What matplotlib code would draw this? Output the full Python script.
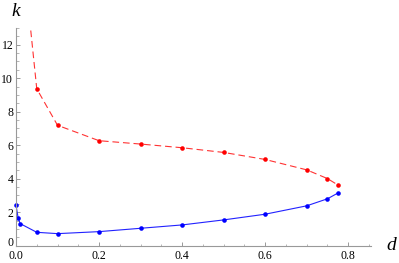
import numpy as np
import matplotlib
matplotlib.use('Agg')
import matplotlib.pyplot as plt
import matplotlib.transforms as mtransforms
from matplotlib.ticker import MultipleLocator, FormatStrFormatter

# values
d_lower = [0.0, 0.005, 0.01, 0.05, 0.1, 0.2, 0.3, 0.4, 0.5, 0.6, 0.7, 0.75, 0.775]
k_lower = [2.42, 1.68, 1.32, 0.80, 0.72, 0.84, 1.04, 1.24, 1.54, 1.88, 2.38, 2.80, 3.14]

d_upper = [0.01, 0.05, 0.1, 0.2, 0.3, 0.4, 0.5, 0.6, 0.7, 0.75, 0.775]
k_upper = [19.0, 9.37, 7.19, 6.27, 6.07, 5.85, 5.57, 5.15, 4.53, 4.01, 3.63]

x_ticks = [0.0, 0.2, 0.4, 0.6, 0.8]
y_ticks = [0, 2, 4, 6, 8, 10, 12]

plt.rcParams['font.family'] = ['Liberation Serif', 'DejaVu Serif']

fig = plt.figure(figsize=(3.99, 2.63), dpi=100)
ax = fig.add_axes([16 / 399, 17.3 / 263, 355 / 399, 217.7 / 263])

x_max, y_max = 0.855, 13.0
ax.set_xlim(0, x_max)
ax.set_ylim(0, y_max)

# lines (clipped), then markers (unclipped so the dot on the axis shows whole)
ax.plot(d_upper, k_upper, color='#ff3333', lw=0.8, dashes=(6, 3.5))
ax.plot(d_lower, k_lower, color='#2222ff', lw=0.8)

du = np.array(d_upper)
ku = np.array(k_upper)
keep = ku <= y_max
ax.plot(du[keep], ku[keep], 'o', color='#ff0000', ms=3.3, mew=0, clip_on=False)
ax.plot(d_lower, k_lower, 'o', color='#0000ff', ms=3.3, mew=0, clip_on=False)

for s in ['top', 'right']:
    ax.spines[s].set_visible(False)
for s in ['left', 'bottom']:
    ax.spines[s].set_color('#999999')
    ax.spines[s].set_linewidth(0.8)

ax.set_xticks(x_ticks)
ax.set_yticks(y_ticks)
ax.xaxis.set_major_formatter(FormatStrFormatter('%.1f'))
ax.xaxis.set_minor_locator(MultipleLocator(0.05))
ax.yaxis.set_minor_locator(MultipleLocator(0.5))
ax.tick_params(which='major', direction='in', length=3.2, width=0.7,
               color='#999999', labelsize=8.5)
ax.tick_params(axis='x', which='major', pad=2.8)
ax.tick_params(axis='y', which='major', pad=2)
ax.tick_params(which='minor', direction='in', length=1.8, width=0.6,
               color='#aaaaaa')

# lift the "0" on the k axis a little so it clears "0.0"
fig.canvas.draw()
lift = mtransforms.ScaledTranslation(0, 3 / 72, fig.dpi_scale_trans)
y0_label = ax.get_yticklabels()[0]
y0_label.set_transform(y0_label.get_transform() + lift)

fig.text(15.5 / 399, 1 - 11 / 263, 'k', fontsize=14, style='italic',
         ha='center', va='center')
fig.text(391 / 399, 1 - 246 / 263, 'd', fontsize=14, style='italic',
         ha='center', va='center')

fig.savefig('out.png', dpi=100)
